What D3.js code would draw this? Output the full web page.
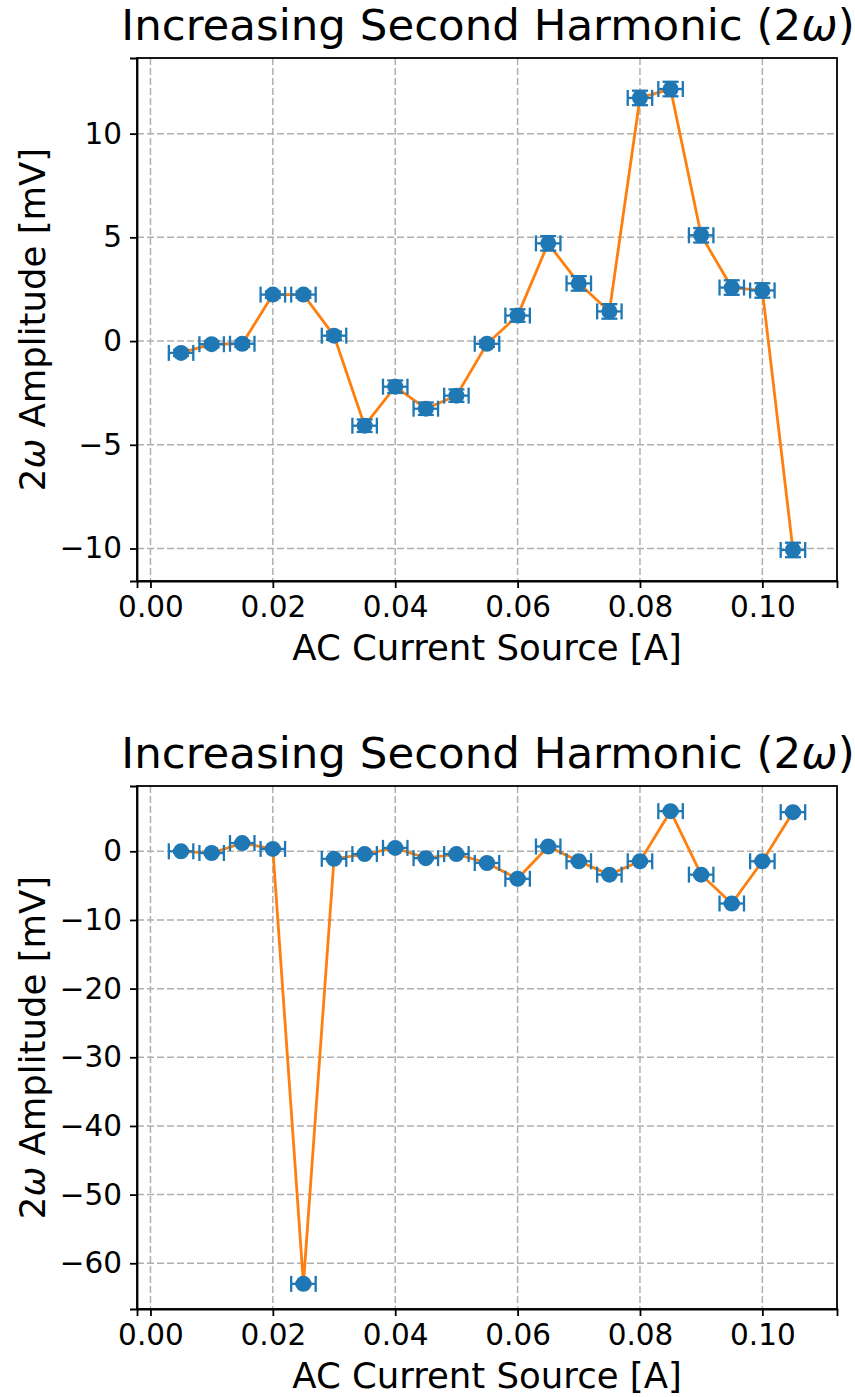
<!DOCTYPE html>
<html>
<head>
  <meta charset="utf-8">
  <title>Second harmonic</title>
  <script src="https://d3js.org/d3.v7.min.js"></script>
<style type="text/css">
body {
  margin: 0;
  background: #fff;
  font-family: "DejaVu Sans", sans-serif;
}
.grid line {
  stroke: #b0b0b0;
  stroke-width: 1.5;
  stroke-dasharray: 7,3;
}
.axis path, .axis line {
  stroke: #000;
  stroke-width: 1.8;
}
.axis text {
  font-family: "DejaVu Sans", sans-serif;
  font-size: 29.5px;
  fill: #000;
}
</style>
</head>
<body>
<svg id="chart" width="855" height="1397"></svg>

<script type="text/javascript">

// current values (A)
const current = [0.005, 0.010, 0.015, 0.020, 0.025, 0.030, 0.035, 0.040, 0.045, 0.050, 0.055,
  0.060, 0.065, 0.070, 0.075, 0.080, 0.085, 0.090, 0.095, 0.100, 0.105];
const currentErr = 0.002;

// top panel amplitude (mV)
const ampTop = [-0.57, -0.15, -0.13, 2.24, 2.24, 0.26, -4.08, -2.2, -3.26, -2.63, -0.13,
  1.23, 4.71, 2.78, 1.43, 11.72, 12.15, 5.1, 2.58, 2.44, -10.07];
const ampTopErr = [0.15, 0.15, 0.15, 0.15, 0.15, 0.2, 0.3, 0.3, 0.3, 0.3, 0.15,
  0.3, 0.35, 0.35, 0.35, 0.35, 0.35, 0.35, 0.35, 0.35, 0.35];

// bottom panel amplitude (mV)
const ampBottom = [0.0, -0.25, 1.2, 0.35, -63.0, -1.1, -0.4, 0.5, -1.0, -0.4, -1.7,
  -4.0, 0.7, -1.45, -3.4, -1.45, 5.85, -3.4, -7.6, -1.45, 5.7];
const ampBottomErr = [0.2, 0.2, 0.2, 0.2, 0.2, 0.2, 0.2, 0.2, 0.2, 0.2, 0.2,
  0.2, 0.2, 0.2, 0.2, 0.2, 0.2, 0.2, 0.2, 0.2, 0.2];

const xTicks = [0, 0.02, 0.04, 0.06, 0.08, 0.10];
const yTicksTop = [-10, -5, 0, 5, 10];
const yTicksBottom = [-60, -50, -40, -30, -20, -10, 0];

const titleText = 'Increasing Second Harmonic (2';
const xLabelText = 'AC Current Source [A]';

const svg = d3.select('#chart');
const axLeft = 137, axWidth = 700, axHeight = 523;

// matplotlib style 5% margins around data incl. error bars
function padded(lo, hi) {
  let p = (hi - lo) * 0.05;
  return [lo - p, hi + p];
}

function drawPanel(top, vals, errs, yTicks) {
  let g = svg.append('g').attr('transform', 'translate(' + axLeft + ',' + top + ')');

  let x = d3.scaleLinear()
    .domain(padded(d3.min(current) - currentErr, d3.max(current) + currentErr))
    .range([0, axWidth]);
  let y = d3.scaleLinear()
    .domain(padded(d3.min(vals, (v, i) => v - errs[i]), d3.max(vals, (v, i) => v + errs[i])))
    .range([axHeight, 0]);

  // grid
  let grid = g.append('g').attr('class', 'grid');
  grid.selectAll('.gx').data(xTicks).enter().append('line')
    .attr('x1', d => x(d)).attr('x2', d => x(d))
    .attr('y1', 0).attr('y2', axHeight);
  grid.selectAll('.gy').data(yTicks).enter().append('line')
    .attr('x1', 0).attr('x2', axWidth)
    .attr('y1', d => y(d)).attr('y2', d => y(d));

  // connecting line
  g.append('path')
    .datum(vals)
    .attr('fill', 'none')
    .attr('stroke', '#ff7f0e')
    .attr('stroke-width', 2.8)
    .attr('d', d3.line().x((d, i) => x(current[i])).y(d => y(d)));

  // error bars
  let cap = 8;
  let eb = g.append('g').attr('stroke', '#1f77b4').attr('stroke-width', 2.3);
  vals.forEach(function(v, i) {
    let cx = x(current[i]), cy = y(v);
    let x0 = x(current[i] - currentErr), x1 = x(current[i] + currentErr);
    let y0 = y(v - errs[i]), y1 = y(v + errs[i]);
    eb.append('line').attr('x1', x0).attr('x2', x1).attr('y1', cy).attr('y2', cy);
    eb.append('line').attr('x1', cx).attr('x2', cx).attr('y1', y0).attr('y2', y1);
    eb.append('line').attr('x1', x0).attr('x2', x0).attr('y1', cy - cap).attr('y2', cy + cap);
    eb.append('line').attr('x1', x1).attr('x2', x1).attr('y1', cy - cap).attr('y2', cy + cap);
    eb.append('line').attr('x1', cx - cap).attr('x2', cx + cap).attr('y1', y0).attr('y2', y0);
    eb.append('line').attr('x1', cx - cap).attr('x2', cx + cap).attr('y1', y1).attr('y2', y1);
  });

  // markers
  g.append('g').selectAll('circle')
    .data(vals)
    .enter()
    .append('circle')
    .attr('cx', (d, i) => x(current[i]))
    .attr('cy', d => y(d))
    .attr('r', 8)
    .attr('fill', '#1f77b4');

  // axes
  g.append('g').attr('class', 'axis')
    .attr('transform', 'translate(0,' + axHeight + ')')
    .call(d3.axisBottom(x).tickValues(xTicks).tickFormat(d3.format('.2f')).tickSizeOuter(0).tickSize(7).tickPadding(8));
  g.append('g').attr('class', 'axis')
    .call(d3.axisLeft(y).tickValues(yTicks).tickSizeOuter(0).tickSize(7).tickPadding(8));

  // frame
  g.append('rect')
    .attr('width', axWidth).attr('height', axHeight)
    .attr('fill', 'none').attr('stroke', '#000').attr('stroke-width', 1.8);

  // title
  let t = g.append('text')
    .attr('x', axWidth / 2 + 1).attr('y', -18)
    .attr('text-anchor', 'middle')
    .attr('font-size', 43.5)
    .text(titleText);
  t.append('tspan').attr('font-style', 'italic').text('\u03c9');
  t.append('tspan').text(')');

  // x label
  g.append('text')
    .attr('x', axWidth / 2).attr('y', axHeight + 79)
    .attr('text-anchor', 'middle')
    .attr('font-size', 35.5)
    .text(xLabelText);

  // y label
  let yl = g.append('text')
    .attr('transform', 'translate(' + (45 - axLeft) + ',' + axHeight / 2 + ') rotate(-90)')
    .attr('text-anchor', 'middle')
    .attr('font-size', 35.5)
    .text('2');
  yl.append('tspan').attr('font-style', 'italic').text('\u03c9');
  yl.append('tspan').text(' Amplitude [mV]');
}

drawPanel(58, ampTop, ampTopErr, yTicksTop);
drawPanel(786, ampBottom, ampBottomErr, yTicksBottom);

</script>
</body>
</html>
